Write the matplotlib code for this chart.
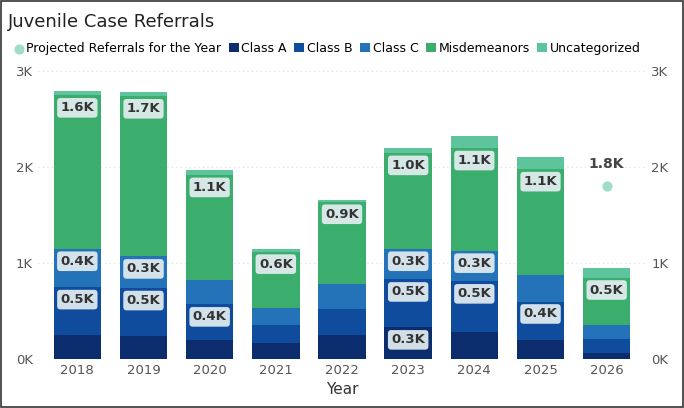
import matplotlib
matplotlib.use("Agg")
import matplotlib.pyplot as plt
from matplotlib.patches import Rectangle

years = ["2018","2019","2020","2021","2022","2023","2024","2025","2026"]
class_a = [0.25,0.24,0.20,0.17,0.25,0.33,0.28,0.20,0.06]
class_b = [0.50,0.50,0.37,0.18,0.27,0.50,0.53,0.40,0.15]
class_c = [0.40,0.33,0.25,0.18,0.26,0.32,0.32,0.28,0.14]
misd    = [1.60,1.67,1.10,0.59,0.86,1.00,1.07,1.10,0.50]
uncat   = [0.05,0.05,0.05,0.03,0.02,0.05,0.13,0.13,0.10]
proj_year = "2026"; proj_val = 1.8

names = ["Class A","Class B","Class C","Misdemeanors","Uncategorized","Projected Referrals for the Year"]
colors = ["#0B2D6E","#0F4C9E","#2473B8","#3BAE6E","#5DC49B","#9FDCCC"]

fig = plt.figure(figsize=(6.84,4.08), dpi=100)
fig.patches.append(Rectangle((0.002,0.002),0.996,0.996,transform=fig.transFigure,fill=False,ec="#333",lw=1.2))
ax = fig.add_axes([0.055,0.12,0.89,0.705])
x = list(range(len(years)))
bottom = [0]*len(years)
for vals,c,n in zip([class_a,class_b,class_c,misd,uncat],colors,names):
    ax.bar(x,vals,bottom=bottom,color=c,width=0.72,label=n,zorder=2)
    for i,v in enumerate(vals):
        if v >= 0.3 and n != "Uncategorized":
            ax.text(i, bottom[i]+v-0.13, f"{v:.1f}K", ha="center", va="center", fontsize=9.5, fontweight="bold",
                    color="#333", bbox=dict(boxstyle="round,pad=0.25", fc="#E4EEF0", ec="none", alpha=0.92), zorder=3)
    bottom = [b+v for b,v in zip(bottom,vals)]
pi = years.index(proj_year)
ax.scatter([pi],[proj_val],color=colors[5],s=40,zorder=3,label=names[5])
ax.text(pi,proj_val+0.16,f"{proj_val:.1f}K",ha="center",va="bottom",fontsize=10,fontweight="bold",color="#444")

ax.set_ylim(0,3)
ax.set_xlim(-0.6,8.6)
ax.set_yticks([0,1,2,3]); ax.set_yticklabels(["0K","1K","2K","3K"])
ax.set_xticks(x); ax.set_xticklabels(years)
ax.tick_params(length=0,colors="#555",labelsize=9.5)
ax2 = ax.twinx(); ax2.set_ylim(0,3); ax2.set_yticks([0,1,2,3]); ax2.set_yticklabels(["0K","1K","2K","3K"])
ax2.tick_params(length=0,colors="#555",labelsize=9.5)
for a in (ax,ax2):
    for s in a.spines.values(): s.set_visible(False)
ax.grid(axis="y",color="#ddd",ls=(0,(1,3)),lw=0.8,zorder=0)
ax.set_xlabel("Year",fontsize=11,color="#333")
fig.text(0.012,0.935,"Juvenile Case Referrals",fontsize=13,color="#222")
h,l = ax.get_legend_handles_labels()
fig.legend(h,l,loc="upper left",bbox_to_anchor=(0.004,0.925),ncol=6,frameon=False,fontsize=9,
           handlelength=0.8,handletextpad=0.2,columnspacing=0.6,markerscale=1)
leg = fig.legends[0]
for hnd in leg.legend_handles:
    pass
fig.savefig("out.png",dpi=100)
